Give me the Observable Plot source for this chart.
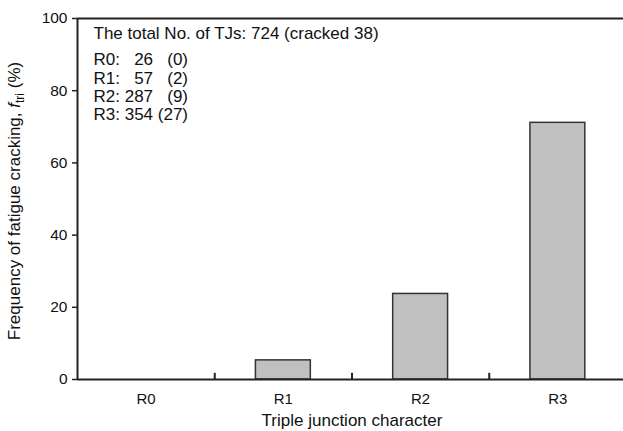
<!DOCTYPE html>
<html>
<head>
<meta charset="utf-8">
<script src="https://cdn.jsdelivr.net/npm/d3@7"></script>
<script src="https://cdn.jsdelivr.net/npm/@observablehq/plot@0.6"></script>
<style>
  html, body { margin: 0; padding: 0; background: #fff; }
  svg { display: block; }
</style>
</head>
<body>
<div id="chart"></div>
<script>
const categories = ["R0", "R1", "R2", "R3"];
const frequency = [0, 5.3, 23.7, 71.1];
const totals = [26, 57, 287, 354];
const cracked = [0, 2, 9, 27];
const totalCount = 724;
const totalCracked = 38;
const yTicks = [0, 20, 40, 60, 80, 100];
const xTitle = "Triple junction character";

const FONT = "'Liberation Sans', Arial, Helvetica, sans-serif";
const FS = "\u2007"; // figure space (digit width)

const data = categories.map((c, i) => ({ i, cat: c, v: frequency[i] }));

const header = `The total No. of TJs: ${totalCount} (cracked ${totalCracked})`;
const rows = categories.map((c, i) => {
  const n = String(totals[i]);
  const k = `(${cracked[i]})`;
  return `${c}: ${FS.repeat(3 - n.length)}${n} ${String(cracked[i]).length < 2 ? FS : ""}${k}`;
}).join("\n");

const boundaries = d3.range(1, categories.length).map(i => i - 0.5);

const chart = Plot.plot({
  width: 623,
  height: 431,
  marginLeft: 77,
  marginRight: -3,
  marginTop: 18,
  marginBottom: 52,
  style: { fontFamily: FONT, fontSize: "14px", color: "#111", background: "#fff" },
  x: { domain: [-0.5, categories.length - 0.5], axis: null },
  y: { domain: [0, 100], axis: null },
  marks: [
    Plot.rectY(data, {
      x1: d => d.i - 0.2, x2: d => d.i + 0.2, y1: 0, y2: "v",
      fill: "#c0c0c0", stroke: "#333", strokeWidth: 1.5
    }),
    Plot.ruleY([0], { stroke: "#222", strokeWidth: 2 }),
    Plot.ruleY([100], { stroke: "#222", strokeWidth: 2 }),
    Plot.ruleX([-0.5], { stroke: "#222", strokeWidth: 2 }),
    Plot.ruleX(boundaries, { y1: 0, y2: 1.7, stroke: "#222", strokeWidth: 2 }),
    Plot.axisY({ ticks: yTicks, tickSize: 5, tickPadding: 5, fontSize: 15.5, label: null, stroke: "#222", strokeWidth: 1.5 }),
    Plot.axisX({ ticks: d3.range(categories.length), tickFormat: i => categories[i], tickSize: 0, tickPadding: 14, fontSize: 15, label: null }),
    Plot.text([xTitle], { frameAnchor: "bottom", lineAnchor: "middle", dy: 41, fontSize: 17, fill: "#111" }),
    Plot.text([header], { frameAnchor: "top-left", lineAnchor: "middle", dx: 16, dy: 15, textAnchor: "start", fontSize: 17, fill: "#111" }),
    Plot.text([rows], { frameAnchor: "top-left", lineAnchor: "middle", dx: 16, dy: 68.5, textAnchor: "start", fontSize: 17, lineHeight: 1.08, fill: "#111" })
  ]
});

// y-axis title with italic f and subscript "tri"
const svg = d3.select(chart);
const t = svg.append("text")
  .attr("transform", "translate(20,201) rotate(-90)")
  .attr("text-anchor", "middle")
  .attr("font-family", FONT)
  .attr("font-size", 17)
  .attr("fill", "#111");
t.append("tspan").text("Frequency of fatigue cracking, ");
t.append("tspan").attr("font-style", "italic").text("f");
t.append("tspan").attr("font-size", 12).attr("dy", 4).text("tri");
t.append("tspan").attr("dy", -4).text(" (%)");

document.getElementById("chart").appendChild(chart);
</script>
</body>
</html>
